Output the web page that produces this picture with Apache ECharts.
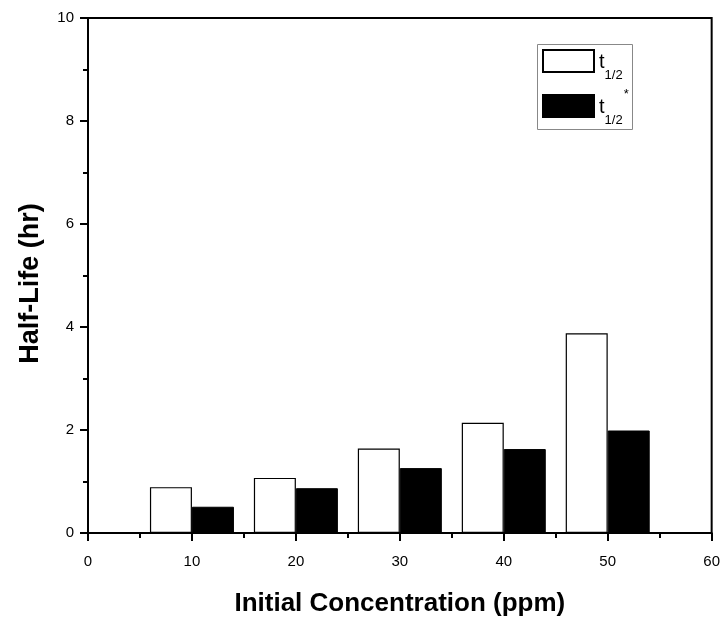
<!DOCTYPE html>
<html>
<head>
<meta charset="utf-8">
<script src="https://cdn.jsdelivr.net/npm/echarts@6/dist/echarts.min.js"></script>
<style>
html,body{margin:0;padding:0;background:#fff;}
#chart{width:723px;height:623px;}
</style>
</head>
<body>
<div id="chart"></div>
<script>
// Data
const concentrations = [10, 20, 30, 40, 50];
const tHalf = [0.89, 1.07, 1.64, 2.14, 3.88];
const tHalfStar = [0.51, 0.87, 1.26, 1.63, 1.99];
const seriesNames = ['t1/2', 't1/2*'];
const xAxisTitle = 'Initial Concentration (ppm)';
const yAxisTitle = 'Half-Life (hr)';

const FONT = '"Liberation Sans", Arial, sans-serif';
const chart = echarts.init(document.getElementById('chart'));

const axisCommon = {
  axisLine: { show: true, lineStyle: { color: '#000', width: 2 } },
  axisTick: { show: true, inside: false, length: 8, lineStyle: { color: '#000', width: 2 } },
  minorTick: { show: true, splitNumber: 2, length: 5, lineStyle: { color: '#000', width: 2 } },
  splitLine: { show: false },
  minorSplitLine: { show: false }
};

chart.setOption({
  animation: false,
  backgroundColor: '#fff',
  grid: {
    left: 88, right: 11, top: 18, bottom: 90,
    show: true, borderColor: '#000', borderWidth: 2, backgroundColor: 'transparent'
  },
  xAxis: Object.assign({
    type: 'value', min: 0, max: 60, interval: 10,
    name: xAxisTitle, nameLocation: 'middle', nameGap: 58,
    nameTextStyle: { fontFamily: FONT, fontSize: 26, fontWeight: 'bold', color: '#000' },
    axisLabel: { fontFamily: FONT, fontSize: 15, color: '#000', margin: 21 }
  }, axisCommon),
  yAxis: Object.assign({
    type: 'value', min: 0, max: 10, interval: 2,
    name: yAxisTitle, nameLocation: 'middle', nameGap: 44,
    nameTextStyle: { fontFamily: FONT, fontSize: 27, fontWeight: 'bold', color: '#000', padding: [0, 16, 0, 0] },
    axisLabel: { fontFamily: FONT, fontSize: 15, color: '#000', margin: 14 }
  }, axisCommon),
  legend: {
    orient: 'vertical', left: 542, top: 40, padding: 0, itemGap: 3,
    itemWidth: 51, itemHeight: 22, borderWidth: 0, icon: 'rect',
    data: seriesNames,
    formatter: function (name) {
      return name === seriesNames[1] ? '{t|t}{sub|1/2}{sup|*}' : '{t|t}{sub|1/2}';
    },
    textStyle: {
      fontFamily: FONT, color: '#000', padding: [0, 0, 22, 0],
      rich: {
        t: { fontFamily: FONT, fontSize: 20, lineHeight: 20, color: '#000', verticalAlign: 'top', padding: [12, 0, 0, 0] },
        sub: { fontFamily: FONT, fontSize: 13, lineHeight: 13, color: '#000', verticalAlign: 'top', padding: [29, 0, 0, 0] },
        sup: { fontFamily: FONT, fontSize: 13, lineHeight: 13, color: '#000', verticalAlign: 'top', padding: [3, 0, 0, 1] }
      }
    }
  },
  graphic: [{
    type: 'rect', left: 537, top: 44, silent: true, z: 0,
    shape: { width: 95, height: 85 },
    style: { fill: 'transparent', stroke: '#888', lineWidth: 1 }
  }],
  series: [
    {
      name: seriesNames[0], type: 'bar', barWidth: 42, barGap: '0%',
      itemStyle: { color: '#fff', borderColor: '#000', borderWidth: 1.2 },
      data: concentrations.map((c, i) => [c, tHalf[i]])
    },
    {
      name: seriesNames[1], type: 'bar', barWidth: 42, barGap: '0%',
      itemStyle: { color: '#000', borderColor: '#000', borderWidth: 1 },
      data: concentrations.map((c, i) => [c, tHalfStar[i]])
    }
  ]
});
</script>
</body>
</html>
